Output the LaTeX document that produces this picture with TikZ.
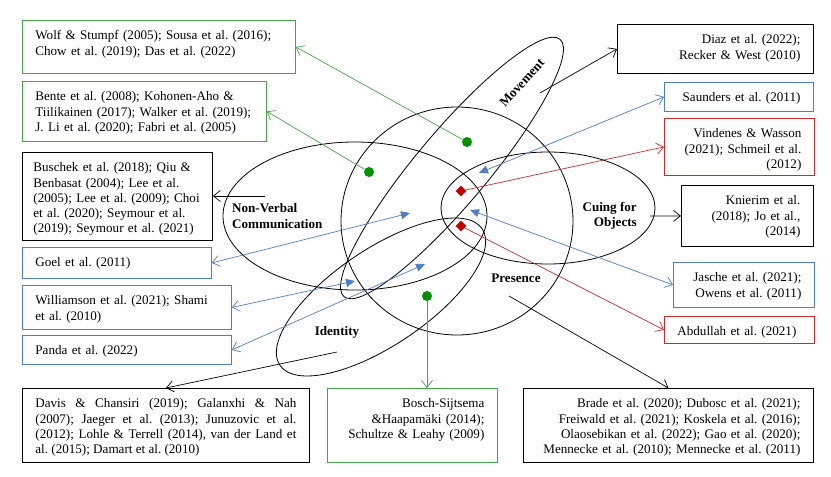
\documentclass[tikz,border=0pt]{standalone}
\usepackage{fontspec}
\setmainfont{Liberation Serif}
\usetikzlibrary{arrows.meta,shapes.geometric}
\definecolor{refgreen}{RGB}{70,165,70}
\definecolor{dotgreen}{RGB}{0,145,0}
\definecolor{refblue}{RGB}{80,125,200}
\definecolor{refred}{RGB}{200,45,45}
\definecolor{dotred}{RGB}{195,0,0}
\newcommand{\reffont}{\fontsize{13.1}{15.25}\selectfont\frenchspacing}
\tikzset{
	ref/.style 2 args={draw=#1,line width=0.8pt,anchor=north west,inner xsep=13pt,inner ysep=0pt,text height=19.5pt,text depth=#2,font=\reffont},
	topic/.style={font=\reffont\bfseries,inner sep=0pt},
	area/.style={draw,line width=0.8pt},
	gdot/.style={circle,inner sep=0pt,minimum size=10pt,fill=dotgreen},
	rdot/.style={diamond,inner sep=0pt,minimum size=11pt,fill=dotred},
	klink/.style={draw=black,line width=0.7pt,-{Straight Barb[length=7pt,width=11pt]}},
	glink/.style={klink,draw=refgreen},
	rlink/.style={klink,draw=refred},
	blink/.style={draw=refblue,line width=0.7pt,{Straight Barb[length=7pt,width=11pt]}-{Triangle[length=9pt,width=8pt]}}
}
\begin{document}
\begin{tikzpicture}[x=1pt,y=-1pt]
	\useasboundingbox (0,0) rectangle (831,477);

	% themes
	\draw[area] (355,216) ellipse [x radius=132, y radius=74];
	\draw[area] (457,221) ellipse [x radius=116, y radius=114];
	\draw[area] (548,208) ellipse [x radius=107, y radius=56];
	\draw[area,rotate around={50:(452,168)}] (452,168) ellipse [x radius=168, y radius=36];
	\draw[area,rotate around={34:(381,297)}] (381,297) ellipse [x radius=122, y radius=48];

	\node[topic,align=left,anchor=west] (nvc) at (232,216) {Non-Verbal\\Communication};
	\node[topic,align=right,anchor=east] (cuing) at (637,216) {Cuing for\\Objects};
	\node[topic] (presence) at (516,278) {Presence};
	\node[topic] (identity) at (337,332) {Identity};
	\node[topic,rotate=48] (movement) at (522,83) {Movement};

	% left column
	\node[ref={refgreen}{33.5pt},text width=247pt,align=left] (wolf) at (22,20) {Wolf \& Stumpf (2005); Sousa et al. (2016);\\Chow et al. (2019); Das et al. (2022)};
	\node[ref={refgreen}{40.5pt},text width=218pt,align=left] (bente) at (22,81) {Bente et al. (2008); Kohonen-Aho \&\\Tiilikainen (2017); Walker et al. (2019);\\J. Li et al. (2020); Fabri et al. (2005)};
	\node[ref={black}{68.5pt},inner xsep=11pt,text width=168pt,align=left] (buschek) at (22,152) {Buschek et al. (2018); Qiu \&\\Benbasat (2004); Lee et al.\\(2005); Lee et al. (2009); Choi\\et al. (2020); Seymour et al.\\(2019); Seymour et al. (2021)};
	\node[ref={refblue}{11.5pt},text width=163pt,align=left] (goel) at (22,247) {Goel et al. (2011)};
	\node[ref={refblue}{24.5pt},text width=183pt,align=left] (williamson) at (22,285) {Williamson et al. (2021); Shami\\et al. (2010)};
	\node[ref={refblue}{9.5pt},text width=183pt,align=left] (panda) at (22,335) {Panda et al. (2022)};

	% bottom row
	\node[ref={black}{54.5pt},text width=261pt,align=justify] (davis) at (22,388) {Davis \& Chansiri (2019); Galanxhi \& Nah\linebreak (2007); Jaeger et al. (2013); Junuzovic et al.\linebreak (2012); Lohle \& Terrell (2014), van der Land et\linebreak al. (2015); Damart et al. (2010)};
	\node[ref={refgreen}{54.5pt},text width=144pt,align=right] (bosch) at (327,388) {Bosch-Sijtsema\\\&Haapamäki (2014);\\Schultze \& Leahy (2009)};
	\node[ref={black}{54.5pt},text width=264pt,align=right] (brade) at (523,388) {Brade et al. (2020); Dubosc et al. (2021);\\Freiwald et al. (2021); Koskela et al. (2016);\\Olaosebikan et al. (2022); Gao et al. (2020);\\Mennecke et al. (2010); Mennecke et al. (2011)};

	% right column
	\node[ref={black}{29.5pt},text width=170pt,align=right] (diaz) at (617,24) {Diaz et al. (2022);\\Recker \& West (2010)};
	\node[ref={refblue}{9.5pt},text width=123pt,align=right] (saunders) at (664,82) {Saunders et al. (2011)};
	\node[ref={refred}{37.5pt},text width=124pt,align=right] (vindenes) at (664,118) {Vindenes \& Wasson\\(2021); Schmeil et al.\\(2012)};
	\node[ref={black}{41.5pt},text width=106pt,align=right] (knierim) at (681,185) {Knierim et al.\\(2018); Jo et al.,\\(2014)};
	\node[ref={refblue}{25.5pt},text width=115pt,align=right] (jasche) at (673,262) {Jasche et al. (2021);\\Owens et al. (2011)};
	\node[ref={refred}{7.5pt},text width=124pt,align=left] (abdullah) at (664,316) {Abdullah et al. (2021)};

	% markers
	\node[gdot] (gwolf) at (467,142) {};
	\node[gdot] (gbente) at (369,172) {};
	\node[gdot] (gbosch) at (427,296) {};
	\node[rdot] (rvindenes) at (461,191) {};
	\node[rdot] (rabdullah) at (461,226) {};

	\coordinate (kbuschek) at (265,196);
	\coordinate (kdavis) at (337,352);
	\coordinate (kbrade) at (509,296);
	\coordinate (kdiaz) at (540,93);
	\coordinate (kknierim) at (650,216);
	\coordinate (bgoel) at (410,213);
	\coordinate (bwilliamson) at (355,281);
	\coordinate (bpanda) at (425,264);
	\coordinate (bsaunders) at (479,173);
	\coordinate (bjasche) at (470,210);

	% links
	\draw[glink] (gwolf) -- (wolf.east);
	\draw[glink] (gbente) -- (bente.east);
	\draw[glink] (gbosch) -- (gbosch |- bosch.north);
	\draw[rlink] (rvindenes) -- (vindenes.west);
	\draw[rlink] (rabdullah) -- (abdullah.west);
	\draw[klink] (kbuschek) -- (kbuschek -| buschek.east);
	\draw[klink] (kdavis) -- (davis.north);
	\draw[klink] (kbrade) -- (brade.north);
	\draw[klink] (kdiaz) -- (diaz.west);
	\draw[klink] (kknierim) -- (knierim.west);
	\draw[blink] (goel.east) -- (bgoel);
	\draw[blink] (williamson.east) -- (bwilliamson);
	\draw[blink] (panda.east) -- (bpanda);
	\draw[blink] (saunders.west) -- (bsaunders);
	\draw[blink] (jasche.west) -- (bjasche);
\end{tikzpicture}
\end{document}
